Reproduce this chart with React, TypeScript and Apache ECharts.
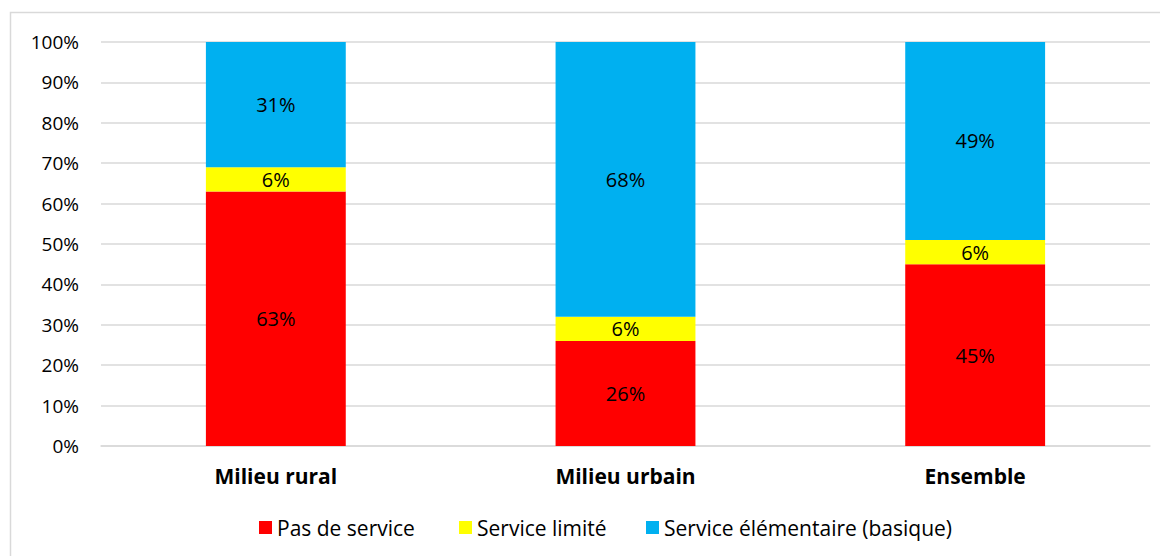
import React, { useEffect, useRef } from "react";
import * as echarts from "echarts";

const categories = ["Milieu rural", "Milieu urbain", "Ensemble"];
const pasDeService = [63, 26, 45];
const serviceLimite = [6, 6, 6];
const serviceElementaire = [31, 68, 49];
const seriesNames = ["Pas de service", "Service limité", "Service élémentaire (basique)"];
const seriesColors = ["#FF0000", "#FFFF00", "#00B0F0"];
const legendLefts = [246, 446, 633];

const FONT = "'Open Sans', Lato, sans-serif";

export default function App() {
  const ref = useRef<HTMLDivElement>(null);
  useEffect(() => {
    if (!ref.current) return;
    const chart = echarts.init(ref.current, null, { renderer: "svg" });
    const values = [pasDeService, serviceLimite, serviceElementaire];
    chart.setOption({
      animation: false,
      textStyle: { fontFamily: FONT },
      graphic: [
        {
          type: "rect",
          shape: { x: 2.5, y: 4.5, width: 1200, height: 600 },
          style: { fill: "none", stroke: "#d9d9d9", lineWidth: 1.5 },
          silent: true,
        },
      ],
      grid: { left: 93, right: 18, top: 34, bottom: 110, containLabel: false },
      legend: seriesNames.map((name, i) => ({
        left: legendLefts[i],
        top: 504,
        itemWidth: 13,
        itemHeight: 13,
        icon: "rect",
        textStyle: { fontFamily: FONT, fontSize: 21, color: "#000" },
        data: [name],
      })),
      xAxis: {
        type: "category",
        data: categories,
        axisLine: { show: true, lineStyle: { color: "#d9d9d9", width: 1.5 } },
        axisTick: { show: false },
        axisLabel: {
          fontFamily: FONT,
          fontSize: 21,
          fontWeight: "bold",
          color: "#000",
          margin: 19,
        },
      },
      yAxis: {
        type: "value",
        min: 0,
        max: 100,
        interval: 10,
        axisLine: { show: false },
        axisTick: { show: false },
        splitLine: { lineStyle: { color: "#d9d9d9", width: 1.5 } },
        axisLabel: {
          fontFamily: FONT,
          fontSize: 19,
          color: "#000",
          margin: 22,
          formatter: (v: number) => v + "%",
        },
      },
      series: seriesNames.map((name, i) => ({
        name,
        type: "bar",
        stack: "total",
        barWidth: "40%",
        data: values[i],
        itemStyle: { color: seriesColors[i] },
        label: {
          show: true,
          position: "inside",
          fontFamily: FONT,
          fontSize: 20,
          color: "#000",
          formatter: (p: any) => Math.round(p.value) + "%",
        },
      })),
    });
    return () => chart.dispose();
  }, []);
  return <div ref={ref} style={{ width: 1160, height: 548 }} />;
}
